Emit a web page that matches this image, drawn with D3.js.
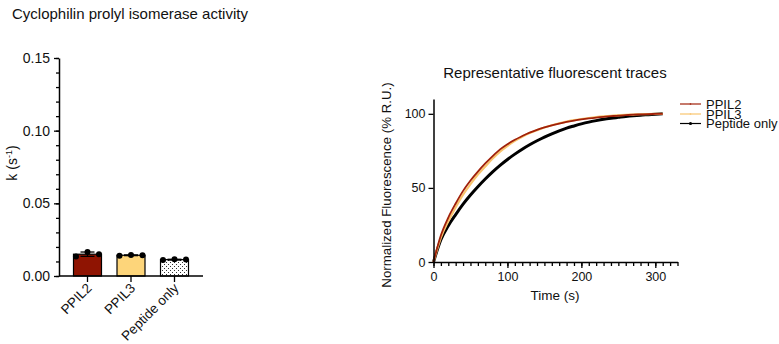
<!DOCTYPE html>
<html><head><meta charset="utf-8">
<script src="https://cdn.jsdelivr.net/npm/d3@7"></script>
<style>
body{margin:0;background:#fff;}
svg{font-family:"Liberation Sans",Arial,sans-serif;}
</style></head>
<body>
<svg id="c" width="779" height="344"></svg>
<script>
// ---- Data ----
const barCategories = ["PPIL2", "PPIL3", "Peptide only"];
const ppil2Reps = [0.0135, 0.0165, 0.0150];
const ppil3Reps = [0.0140, 0.0145, 0.0143];
const peptideReps = [0.0110, 0.0115, 0.0113];
const barColors = ["#8f1402", "#fdd57a", "url(#dots)"];
const kTicks = [0, 0.05, 0.10, 0.15];

const timeS = [0,10,20,30,40,50,60,70,80,90,100,110,120,130,140,150,160,170,180,190,200,210,220,230,240,250,260,270,280,290,300,310];
const tracePPIL2 = [0,18,30,39.5,48,55,61,66.5,71.5,76,79.5,82.5,85,87.3,89.2,90.8,92.2,93.4,94.5,95.4,96.2,96.9,97.5,98,98.4,98.8,99.1,99.4,99.6,99.8,99.9,100];
const tracePPIL3 = [0,16.5,27.5,37,45.5,52.5,59,64.5,69.8,74.5,78.3,81.7,84.5,87,89,90.8,92.3,93.6,94.7,95.7,96.5,97.2,97.8,98.3,98.7,99,99.3,99.5,99.7,99.8,99.9,100];
const tracePeptide = [0,15,24.5,32,39,45.2,50.8,56,60.8,65.2,69.2,72.8,76.1,79.1,81.8,84.3,86.5,88.5,90.3,91.8,93.2,94.4,95.4,96.3,97,97.6,98.2,98.7,99.1,99.4,99.7,100];
const traceNames = ["PPIL2", "PPIL3", "Peptide only"];
const traceColors = ["#a0200a", "#f9c46e", "#000000"];
const fluorTicks = [0, 50, 100];
const timeMajorTicks = [0, 100, 200, 300];

const FF = "Liberation Sans, Arial, sans-serif";
const svg = d3.select("#c");
const defs = svg.append("defs");
const pat = defs.append("pattern").attr("id","dots").attr("patternUnits","userSpaceOnUse").attr("width",4).attr("height",4);
pat.append("rect").attr("width",4).attr("height",4).attr("fill","#fff");
pat.append("rect").attr("x",0).attr("y",0).attr("width",1).attr("height",1).attr("fill","#333");
pat.append("rect").attr("x",2).attr("y",2).attr("width",1).attr("height",1).attr("fill","#333");

// ---- Left chart ----
svg.append("text").attr("x",12).attr("y",19).attr("font-size",15).attr("fill","#111").text("Cyclophilin prolyl isomerase activity");

const yK = d3.scaleLinear().domain([0,0.15]).range([276,58]);
const xC = d3.scalePoint().domain(barCategories).range([59,203]).padding(0.655);
const bw = 28;

const gY = svg.append("g").attr("transform","translate(59,0)");
gY.call(d3.axisLeft(yK).tickValues(d3.range(0,0.1501,0.01)).tickSize(3).tickFormat(""));
gY.call(g=>g.select(".domain").remove());
const gY2 = svg.append("g").attr("transform","translate(59,0)");
gY2.call(d3.axisLeft(yK).tickValues(kTicks).tickSize(5).tickFormat(d3.format(".2f")).tickSizeOuter(0).tickPadding(4));
svg.selectAll("g .tick line").attr("stroke","#000").attr("stroke-width",1.3);
gY2.select(".domain").attr("stroke","#000").attr("stroke-width",1.5);
gY2.selectAll("text").attr("font-size",14).attr("fill","#111").attr("font-family",FF);

svg.append("text").attr("transform","translate(17,163) rotate(-90)").attr("text-anchor","middle").attr("font-size",14).attr("fill","#111")
  .call(t=>{t.append("tspan").text("k (s");t.append("tspan").attr("baseline-shift","super").attr("font-size",9).text("-1");t.append("tspan").text(")");});

const reps = [ppil2Reps, ppil3Reps, peptideReps];
const bars = barCategories.map((c,i)=>({c, reps:reps[i], mean:d3.mean(reps[i]), sd:d3.deviation(reps[i]), color:barColors[i]}));
svg.selectAll(".bar").data(bars).join("rect").attr("class","bar")
  .attr("x",d=>xC(d.c)-bw/2).attr("width",bw)
  .attr("y",d=>yK(d.mean)).attr("height",d=>yK(0)-yK(d.mean))
  .attr("fill",d=>d.color).attr("stroke","#000").attr("stroke-width",1.2);
bars.forEach(d=>{
  const x=xC(d.c);
  svg.append("line").attr("x1",x).attr("x2",x).attr("y1",yK(d.mean-d.sd)).attr("y2",yK(d.mean+d.sd)).attr("stroke","#000").attr("stroke-width",1.3);
  svg.append("line").attr("x1",x-7).attr("x2",x+7).attr("y1",yK(d.mean+d.sd)).attr("y2",yK(d.mean+d.sd)).attr("stroke","#000").attr("stroke-width",1.3);
  svg.append("line").attr("x1",x-7).attr("x2",x+7).attr("y1",yK(d.mean-d.sd)).attr("y2",yK(d.mean-d.sd)).attr("stroke","#000").attr("stroke-width",1.3);
  d.reps.forEach((v,j)=>{
    svg.append("circle").attr("cx",x+(j-1)*11.5).attr("cy",yK(v)).attr("r",3).attr("fill","#000");
  });
});
const gX = svg.append("g").attr("transform","translate(0,276)");
gX.append("line").attr("x1",59).attr("x2",203).attr("stroke","#000").attr("stroke-width",1.5);
barCategories.forEach(c=>{
  gX.append("line").attr("x1",xC(c)).attr("x2",xC(c)).attr("y1",0).attr("y2",6).attr("stroke","#000").attr("stroke-width",1.3);
  gX.append("text").attr("transform",`translate(${xC(c)+5},${13}) rotate(-45)`).attr("text-anchor","end").attr("font-size",13.5).attr("fill","#111").text(c);
});

// ---- Right chart ----
const xT = d3.scaleLinear().domain([0,330]).range([433.5,677.5]);
const yF = d3.scaleLinear().domain([0,110]).range([262,99]);

svg.append("text").attr("x",555).attr("y",78).attr("text-anchor","middle").attr("font-size",15).attr("fill","#111").text("Representative fluorescent traces");

const line = d3.line().x((d,i)=>xT(timeS[i])).y(d=>yF(d)).curve(d3.curveMonotoneX);
svg.append("path").attr("d",line(tracePeptide)).attr("fill","none").attr("stroke",traceColors[2]).attr("stroke-width",3);
svg.append("path").attr("d",line(tracePPIL3)).attr("fill","none").attr("stroke",traceColors[1]).attr("stroke-width",2.2);
svg.append("path").attr("d",line(tracePPIL2)).attr("fill","none").attr("stroke",traceColors[0]).attr("stroke-width",1.8);

const gRY = svg.append("g").attr("transform","translate(433.5,0)");
gRY.call(d3.axisLeft(yF).tickValues(fluorTicks).tickSize(5).tickSizeOuter(0));
gRY.select(".domain").attr("stroke","#000").attr("stroke-width",1.5);
gRY.selectAll(".tick line").attr("stroke","#000").attr("stroke-width",1.3);
gRY.selectAll("text").attr("font-size",12.5).attr("fill","#111").attr("font-family",FF);

const gRX = svg.append("g").attr("transform","translate(0,262)");
gRX.call(d3.axisBottom(xT).tickValues(d3.range(0,331,10)).tickSize(4).tickFormat(""));
gRX.select(".domain").remove();
gRX.selectAll(".tick line").attr("stroke","#000").attr("stroke-width",1.3);
const gRX2 = svg.append("g").attr("transform","translate(0,262)");
gRX2.call(d3.axisBottom(xT).tickValues(timeMajorTicks).tickSize(6).tickSizeOuter(0).tickPadding(4));
gRX2.select(".domain").attr("stroke","#000").attr("stroke-width",1.5);
gRX2.selectAll(".tick line").attr("stroke","#000").attr("stroke-width",1.3);
gRX2.selectAll("text").attr("font-size",12.5).attr("fill","#111").attr("font-family",FF);

svg.append("text").attr("x",555).attr("y",300).attr("text-anchor","middle").attr("font-size",13.5).attr("fill","#111").text("Time (s)");
svg.append("text").attr("transform","translate(391,185) rotate(-90)").attr("text-anchor","middle").attr("font-size",13.3).attr("fill","#111").text("Normalized Fluorescence (% R.U.)");

// legend
const legY = [104, 114, 123.5];
traceNames.forEach((n,i)=>{
  svg.append("line").attr("x1",680).attr("x2",701).attr("y1",legY[i]).attr("y2",legY[i]).attr("stroke",traceColors[i]).attr("stroke-width",1.2);
  svg.append("circle").attr("cx",690.5).attr("cy",legY[i]).attr("r",i===2?1.6:0.8).attr("fill",traceColors[i]);
  svg.append("text").attr("x",706).attr("y",legY[i]+4.5).attr("font-size",13).attr("fill","#111").text(n);
});
</script>
</body></html>
